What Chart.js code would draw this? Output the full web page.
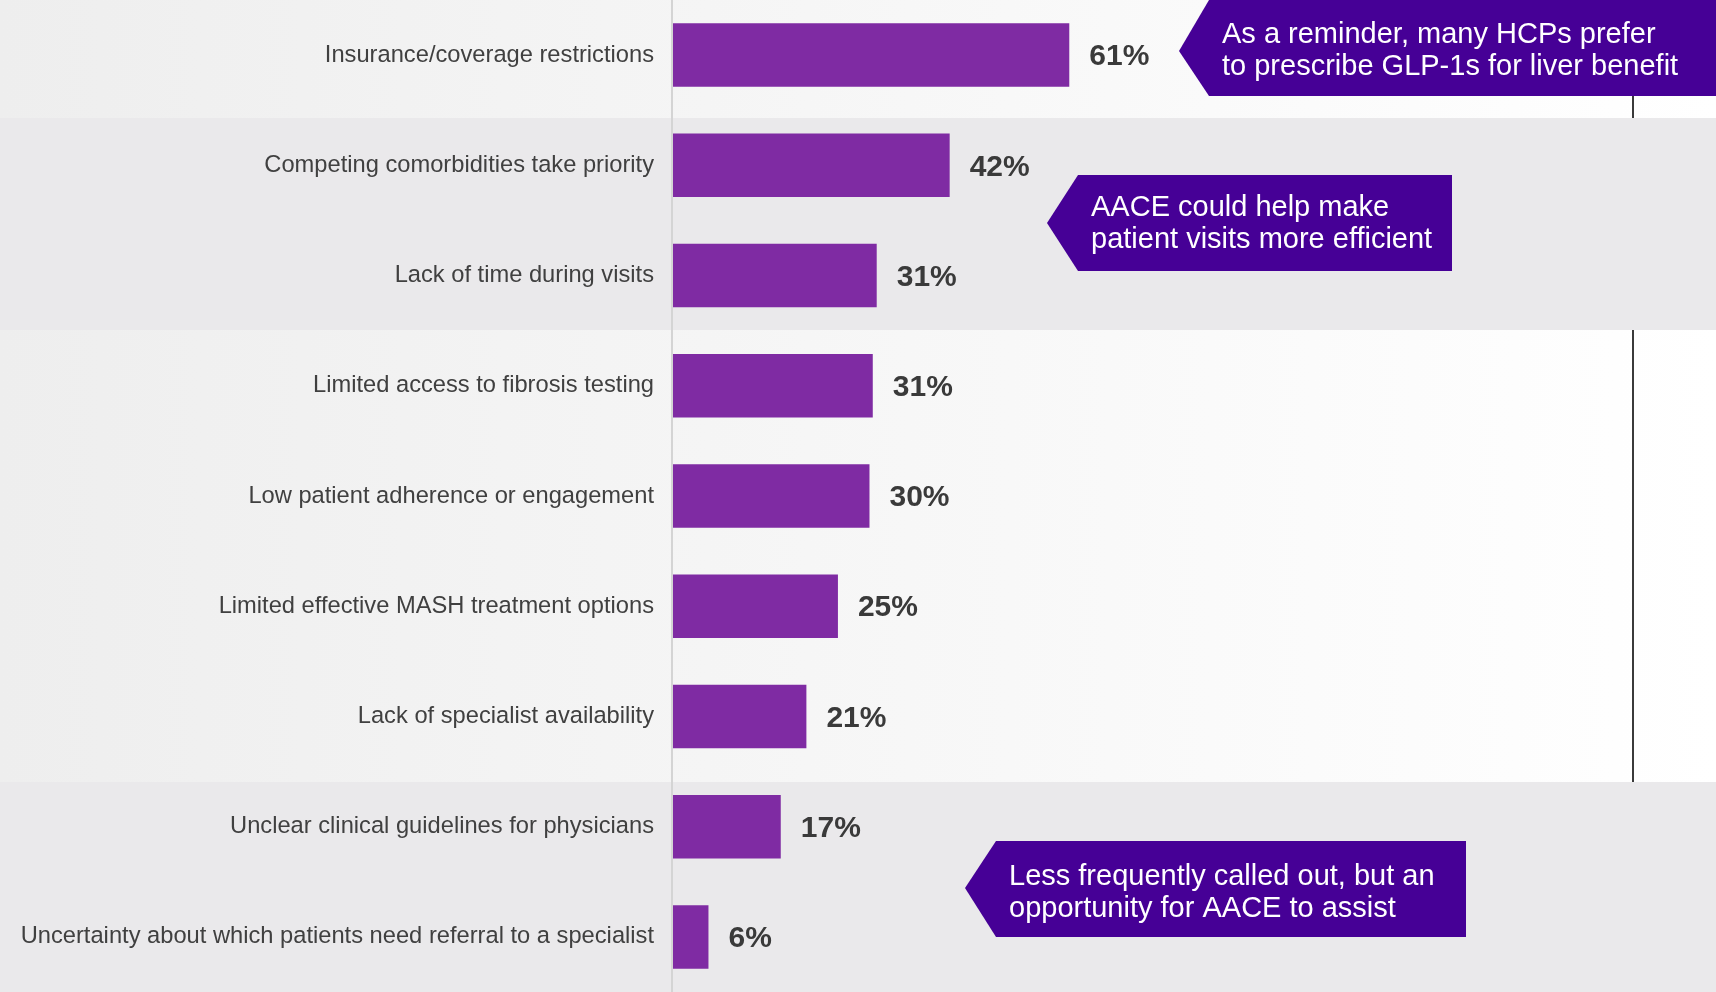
<!DOCTYPE html>
<html>
<head>
<meta charset="utf-8">
<script src="https://cdn.jsdelivr.net/npm/chart.js@4"></script>
<style>
    html, body { margin: 0; padding: 0; overflow: hidden; background: #ffffff; }
    canvas { display: block; }
</style>
</head>
<body>
<canvas id="chartBarreras" width="1716" height="992"></canvas>
<script>
/* --- datos ---------------------------------------------------------------- */
const categories = [
    'Insurance/coverage restrictions',
    'Competing comorbidities take priority',
    'Lack of time during visits',
    'Limited access to fibrosis testing',
    'Low patient adherence or engagement',
    'Limited effective MASH treatment options',
    'Lack of specialist availability',
    'Unclear clinical guidelines for physicians',
    'Uncertainty about which patients need referral to a specialist'
];
const values = [60.6, 42.4, 31.3, 30.7, 30.2, 25.4, 20.6, 16.7, 5.7];
const valueLabels = ['61%', '42%', '31%', '31%', '30%', '25%', '21%', '17%', '6%'];

const calloutTexts = [
    ['As a reminder, many HCPs prefer', 'to prescribe GLP-1s for liver benefit'],
    ['AACE could help make', 'patient visits more efficient'],
    ['Less frequently called out, but an', 'opportunity for AACE to assist']
];

/* --- helpers ------------------------------------------------------------- */
const W = 1716, H = 992;
const PURPLE_BAR = '#7f2ba3';
const PURPLE_BOX = '#460096';

function bandGradient(ctx) {
    const g = ctx.createLinearGradient(0, 0, W, 0);
    g.addColorStop(0, '#eeeeee');
    g.addColorStop(1, '#ffffff');
    return g;
}

const bandsPlugin = {
    id: 'bands',
    beforeDraw(chart) {
        const ctx = chart.ctx;
        ctx.save();
        ctx.fillStyle = bandGradient(ctx);
        ctx.fillRect(0, 0, W, 118);
        ctx.fillRect(0, 330, W, 452);
        ctx.fillStyle = '#eae9eb';
        ctx.fillRect(0, 118, W, 212);
        ctx.fillRect(0, 782, W, H - 782);
        /* linea vertical oscura a la derecha */
        ctx.strokeStyle = '#3a3a3a';
        ctx.lineWidth = 2;
        ctx.beginPath();
        ctx.moveTo(1633, 90); ctx.lineTo(1633, 118);
        ctx.moveTo(1633, 330); ctx.lineTo(1633, 782);
        ctx.stroke();
        ctx.restore();
    }
};

const valueLabelPlugin = {
    id: 'valueLabels',
    afterDatasetsDraw(chart) {
        const ctx = chart.ctx;
        const meta = chart.getDatasetMeta(0);
        ctx.save();
        ctx.font = 'bold 30px "Liberation Sans", Arial, sans-serif';
        ctx.fillStyle = '#3a3a3a';
        ctx.textAlign = 'left';
        ctx.textBaseline = 'middle';
        meta.data.forEach((bar, i) => {
            ctx.fillText(valueLabels[i], bar.x + 20, bar.y + 2);
        });
        /* linea del eje sobre las barras */
        const x = chart.scales.x.getPixelForValue(0);
        ctx.strokeStyle = '#d4d4d4';
        ctx.lineWidth = 2;
        ctx.beginPath();
        ctx.moveTo(x + 1, 0);
        ctx.lineTo(x + 1, H);
        ctx.stroke();
        ctx.restore();
    }
};

function drawCallout(ctx, box, lines) {
    ctx.fillStyle = PURPLE_BOX;
    ctx.beginPath();
    ctx.moveTo(box.tip, box.mid);
    ctx.lineTo(box.left, box.top);
    ctx.lineTo(box.right, box.top);
    ctx.lineTo(box.right, box.bottom);
    ctx.lineTo(box.left, box.bottom);
    ctx.closePath();
    ctx.fill();
    ctx.fillStyle = '#ffffff';
    ctx.font = '29px "Liberation Sans", Arial, sans-serif';
    ctx.textAlign = 'left';
    ctx.textBaseline = 'alphabetic';
    lines.forEach((t, i) => ctx.fillText(t, box.textX, box.base + i * 32));
}

const calloutBoxes = [
    { tip: 1179, mid: 51, left: 1209, right: 1716, top: 0, bottom: 96, textX: 1222, base: 43 },
    { tip: 1047, mid: 223, left: 1078, right: 1452, top: 175, bottom: 271, textX: 1091, base: 216 },
    { tip: 965, mid: 888, left: 996, right: 1466, top: 841, bottom: 937, textX: 1009, base: 885 }
];

const calloutPlugin = {
    id: 'callouts',
    afterDraw(chart) {
        const ctx = chart.ctx;
        ctx.save();
        calloutBoxes.forEach((b, i) => drawCallout(ctx, b, calloutTexts[i]));
        ctx.restore();
    }
};

/* --- grafico ------------------------------------------------------------- */
new Chart(document.getElementById('chartBarreras'), {
    type: 'bar',
    data: {
        labels: categories,
        datasets: [{
            data: values,
            backgroundColor: PURPLE_BAR,
            barPercentage: 0.576,
            categoryPercentage: 1
        }]
    },
    options: {
        indexAxis: 'y',
        responsive: false,
        animation: false,
        devicePixelRatio: 1,
        layout: { padding: 0 },
        plugins: {
            legend: { display: false },
            tooltip: { enabled: false }
        },
        scales: {
            x: {
                display: false,
                min: 0,
                max: 159
            },
            y: {
                offset: true,
                grid: { display: false, drawTicks: false },
                border: { display: false },
                ticks: {
                    color: '#404040',
                    padding: 17,
                    font: { family: '"Liberation Sans", Arial, sans-serif', size: 23.7 }
                },
                afterFit(scale) {
                    scale.width = 671;
                    scale.paddingTop = 0;
                    scale.paddingBottom = 0;
                }
            }
        }
    },
    plugins: [bandsPlugin, valueLabelPlugin, calloutPlugin]
});
</script>
</body>
</html>
